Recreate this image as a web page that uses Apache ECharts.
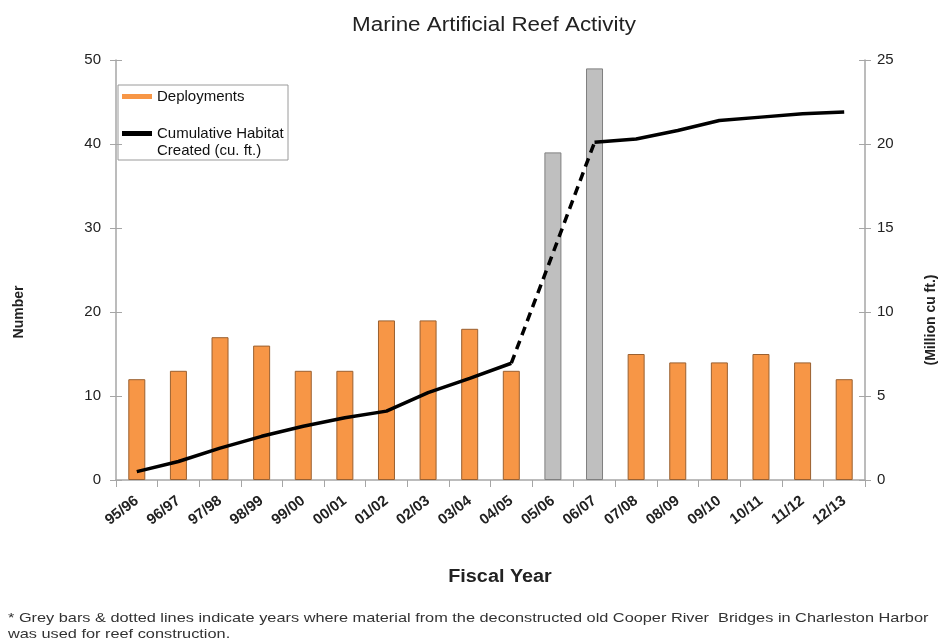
<!DOCTYPE html>
<html><head><meta charset="utf-8">
<script src="https://cdn.jsdelivr.net/npm/echarts@6/dist/echarts.min.js"></script>
<style>html,body{margin:0;padding:0;background:#fff}#c{width:948px;height:644px}</style>
</head><body><div id="c"></div>
<script>
var categories = ['95/96','96/97','97/98','98/99','99/00','00/01','01/02','02/03','03/04','04/05','05/06','06/07','07/08','08/09','09/10','10/11','11/12','12/13'];
var deployments = [12,13,17,16,13,13,19,19,18,13,39,49,15,14,14,15,14,12];
var cumulative = [0.5,1.1,1.9,2.6,3.2,3.7,4.1,5.2,6.05,6.95,13.5,20.1,20.3,20.8,21.4,21.6,21.8,21.9];
var greyYears = ['05/06','06/07'];
var leftTicks = [0,10,20,30,40,50];
var rightTicks = [0,5,10,15,20,25];

var orange = '#F79646', grey = '#BFBFBF';
var barData = deployments.map(function(v,i){
  var g = greyYears.indexOf(categories[i]) >= 0;
  return {value:v, itemStyle:{color: g?grey:orange, borderColor: g?'#7f7f7f':'#9a6030', borderWidth:1}};
});
var gi0 = categories.indexOf(greyYears[0]), gi1 = categories.indexOf(greyYears[greyYears.length-1]);
var solidA = cumulative.map(function(v,i){ return i<=gi0-1 ? v : null; });
var solidB = cumulative.map(function(v,i){ return i>=gi1 ? v : null; });
var dashed = cumulative.map(function(v,i){ return (i>=gi0-1 && i<=gi1) ? v : null; });

var chart = echarts.init(document.getElementById('c'), null, {renderer:'canvas'});
var axisCol = '#a6a6a6';
var F = 'Liberation Sans';
function txt(x, y, s, opt){
  return Object.assign({type:'text', x:x, y:y, silent:true,
    style:Object.assign({text:s, fontFamily:F, fill:'#222'}, opt.style||{})}, opt.el||{});
}
chart.setOption({
  animation:false,
  legend:{orient:'vertical', left:122, top:88, itemWidth:30, itemHeight:5, itemGap:20,
    padding:0, textStyle:{fontFamily:F, fontSize:15, color:'#111', lineHeight:17},
    data:[{name:'Deployments', icon:'rect'},{name:'Cumulative Habitat Created (cu. ft.)', icon:'rect'}],
    formatter:function(n){ return n==='Deployments'? n : 'Cumulative Habitat'; }
  },
  grid:{left:116, right:83, top:60, bottom:164},
  xAxis:{type:'category', data:categories, boundaryGap:true,
    axisLine:{lineStyle:{color:axisCol, width:1.5}},
    axisTick:{show:true, alignWithLabel:false, length:7, lineStyle:{color:axisCol}},
    axisLabel:{rotate:38, fontFamily:F, fontSize:15, fontWeight:'bold', color:'#222', margin:19, interval:0}
  },
  yAxis:[
    {type:'value', min:0, max:50, interval:10, position:'left',
     axisLine:{show:true, lineStyle:{color:axisCol, width:1.5}},
     axisTick:{show:true, length:6, lineStyle:{color:axisCol}},
     splitLine:{show:false},
     axisLabel:{fontFamily:F, fontSize:15, color:'#222', margin:15,
       formatter:function(v){ return leftTicks.indexOf(v)>=0 ? String(v) : ''; }}
    },
    {type:'value', min:0, max:25, interval:5, position:'right',
     axisLine:{show:true, lineStyle:{color:axisCol, width:1.5}},
     axisTick:{show:true, length:6, lineStyle:{color:axisCol}},
     splitLine:{show:false},
     axisLabel:{fontFamily:F, fontSize:15, color:'#222', margin:12,
       formatter:function(v){ return rightTicks.indexOf(v)>=0 ? String(v) : ''; }}
    },
    {type:'value', min:0, max:50, interval:10, position:'left',
     axisLine:{show:false}, axisTick:{show:true, inside:true, length:6, lineStyle:{color:axisCol}},
     axisLabel:{show:false}, splitLine:{show:false}},
    {type:'value', min:0, max:25, interval:5, position:'right',
     axisLine:{show:false}, axisTick:{show:true, inside:true, length:6, lineStyle:{color:axisCol}},
     axisLabel:{show:false}, splitLine:{show:false}}
  ],
  series:[
    {name:'Deployments', type:'bar', data:barData, barWidth:17, itemStyle:{color:orange}, yAxisIndex:0},
    {name:'Cumulative Habitat Created (cu. ft.)', type:'line', yAxisIndex:1, data:solidA, symbol:'none',
     lineStyle:{color:'#000', width:3.5}, itemStyle:{color:'#000'}, connectNulls:false, z:5},
    {name:'Cumulative Habitat Created (cu. ft.)', type:'line', yAxisIndex:1, data:solidB, symbol:'none',
     lineStyle:{color:'#000', width:3.5}, itemStyle:{color:'#000'}, connectNulls:false, z:5},
    {name:'dashed', type:'line', yAxisIndex:1, data:dashed, symbol:'none',
     lineStyle:{color:'#000', width:3.5, type:[9,6]}, connectNulls:false, z:5}
  ],
  graphic:[
    {type:'rect', shape:{x:118, y:85, width:170, height:75}, z:-1, silent:true,
     style:{fill:'#fff', stroke:'#9a9a9a', lineWidth:1}},
    txt(157, 151, 'Created (cu. ft.)', {style:{fontSize:15, fill:'#111', textVerticalAlign:'middle'}}),
    txt(494, 25, 'Marine Artificial Reef Activity', {style:{fontSize:20, textAlign:'center', textVerticalAlign:'middle'}, el:{scaleX:1.12}}),
    txt(500, 577, 'Fiscal Year', {style:{fontSize:18, fontWeight:'bold', textAlign:'center', textVerticalAlign:'middle'}, el:{scaleX:1.1}}),
    txt(19, 312, 'Number', {style:{fontSize:14, fontWeight:'bold', textAlign:'center', textVerticalAlign:'middle'}, el:{rotation:Math.PI/2}}),
    txt(931, 320, '(Million cu ft.)', {style:{fontSize:14, fontWeight:'bold', textAlign:'center', textVerticalAlign:'middle'}, el:{rotation:Math.PI/2}}),
    txt(8, 610, '* Grey bars & dotted lines indicate years where material from the deconstructed old Cooper River  Bridges in Charleston Harbor\nwas used for reef construction.',
      {style:{fontSize:13, lineHeight:16, fill:'#333'}, el:{scaleX:1.255}})
  ]
});
</script></body></html>
